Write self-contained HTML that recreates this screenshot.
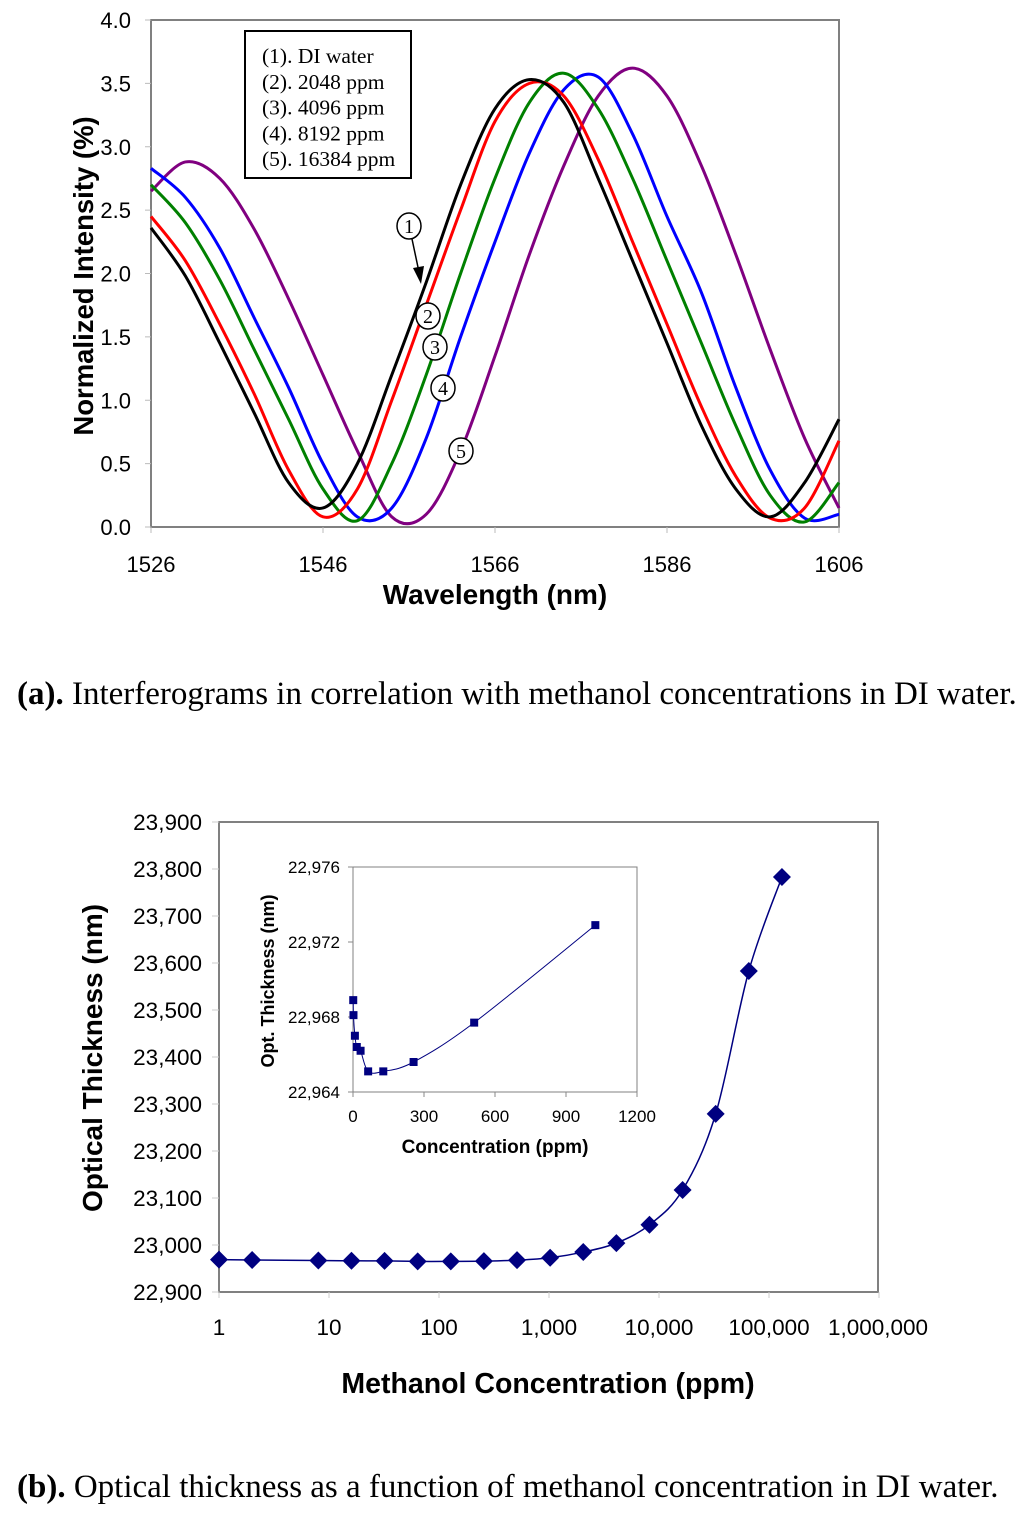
<!DOCTYPE html>
<html><head><meta charset="utf-8">
<style>
html,body{margin:0;padding:0;background:#fff;}
body{width:1024px;height:1516px;position:relative;overflow:hidden;}
svg{position:absolute;left:0;top:0;}
.cap{position:absolute;left:17px;font-family:"Liberation Serif",serif;font-size:33px;color:#000;white-space:nowrap;}
</style></head>
<body>
<svg id="chart" width="1024" height="1516" xmlns="http://www.w3.org/2000/svg"></svg>
<div class="cap" style="top:676px"><b>(a).</b> Interferograms in correlation with methanol concentrations in DI water.</div>
<div class="cap" style="top:1469px"><b>(b).</b> Optical thickness as a function of methanol concentration in DI water.</div>
<script>
// ---- Chart (a) data ----
const wavelengths = [1526,1530,1534,1538,1542,1546,1550,1554,1558,1562,1566,1570,1574,1578,1582,1586,1590,1594,1598,1602,1606];
const seriesDI    = [2.36,1.98,1.45,0.90,0.35,0.15,0.50,1.20,1.93,2.70,3.30,3.53,3.35,2.75,2.10,1.45,0.80,0.30,0.08,0.35,0.85];
const series2048  = [2.45,2.10,1.60,1.05,0.45,0.08,0.30,1.00,1.75,2.50,3.20,3.50,3.40,2.90,2.25,1.60,0.95,0.40,0.07,0.15,0.68];
const series4096  = [2.70,2.40,1.95,1.40,0.85,0.30,0.05,0.50,1.20,2.00,2.75,3.35,3.58,3.30,2.75,2.10,1.45,0.80,0.25,0.04,0.35];
const series8192  = [2.83,2.60,2.20,1.65,1.10,0.50,0.08,0.15,0.70,1.50,2.25,2.95,3.45,3.55,3.10,2.45,1.85,1.10,0.45,0.07,0.10];
const series16384 = [2.65,2.88,2.75,2.35,1.80,1.20,0.60,0.08,0.10,0.60,1.35,2.15,2.85,3.40,3.62,3.40,2.85,2.15,1.40,0.70,0.15];
const yTicksA = [0,0.5,1,1.5,2,2.5,3,3.5,4];
const xTicksA = [1526,1546,1566,1586,1606];
const legendLabels = ["(1). DI water","(2). 2048 ppm","(3). 4096 ppm","(4). 8192 ppm","(5). 16384 ppm"];
// ---- Chart (b) data ----
const concentrations = [1,2,8,16,32,64,128,256,512,1024,2048,4096,8192,16384,32768,65536,131072];
const thickness = [22968.9,22968.1,22967.0,22966.4,22966.2,22965.1,22965.1,22965.6,22967.7,22972.9,22985,23004,23043,23117,23279,23583,23783];
const yTicksB = [22900,23000,23100,23200,23300,23400,23500,23600,23700,23800,23900];
const xTicksB = [1,10,100,1000,10000,100000,1000000];
const xTickLabelsB = ["1","10","100","1,000","10,000","100,000","1,000,000"];
const insetConc = [1,2,8,16,32,64,128,256,512,1024];
const insetThick = [22968.9,22968.1,22967.0,22966.4,22966.2,22965.1,22965.1,22965.6,22967.7,22972.9];
const yTicksInset = [22964,22968,22972,22976];
const xTicksInset = [0,300,600,900,1200];

const NS="http://www.w3.org/2000/svg";
const svg=document.getElementById('chart');
function mk(tag,attrs,parent){const e=document.createElementNS(NS,tag);for(const k in attrs)e.setAttribute(k,attrs[k]);(parent||svg).appendChild(e);return e;}
function txt(s,attrs){const e=mk('text',attrs);e.textContent=s;return e;}
function fmt(n){return n.toString().replace(/\B(?=(\d{3})+(?!\d))/g,",");}
function smooth(pts){let d="M"+pts[0][0]+","+pts[0][1];for(let i=0;i<pts.length-1;i++){const p0=pts[i-1]||pts[i],p1=pts[i],p2=pts[i+1],p3=pts[i+2]||p2;const c1=[p1[0]+(p2[0]-p0[0])/6,p1[1]+(p2[1]-p0[1])/6],c2=[p2[0]-(p3[0]-p1[0])/6,p2[1]-(p3[1]-p1[1])/6];d+=" C"+c1[0]+","+c1[1]+" "+c2[0]+","+c2[1]+" "+p2[0]+","+p2[1];}return d;}

// ===== Chart A =====
const AL=151,AR=839,AT=20,AB=527;
const xA=v=>AL+(v-1526)/(1606-1526)*(AR-AL);
const yA=v=>AB-(v/4)*(AB-AT);
let e;
e=mk('rect',{x:AL,y:AT,width:AR-AL,height:AB-AT,fill:'#fff',stroke:'#808080','stroke-width':2});


yTicksA.forEach(t=>{
  e=mk('line',{x1:AL-6,x2:AL,y1:yA(t),y2:yA(t),stroke:'#bbb','stroke-width':1});
  e=txt(t.toFixed(1),{x:131,y:yA(t)+8,'text-anchor':'end','font-family':'Liberation Sans, sans-serif','font-size':22});
  
  
});
xTicksA.forEach(t=>{
  mk('line',{x1:xA(t),x2:xA(t),y1:AB,y2:AB+6,stroke:'#bbb','stroke-width':1});
  e=txt(String(t),{x:xA(t),y:572,'text-anchor':'middle','font-family':'Liberation Sans, sans-serif','font-size':22});
  
  
});
e=txt('Wavelength (nm)',{x:495,y:604,'text-anchor':'middle','font-family':'Liberation Sans, sans-serif','font-size':28,'font-weight':'bold'});


e=txt('Normalized Intensity (%)',{x:0,y:0,transform:'translate(93,276) rotate(-90)','text-anchor':'middle','font-family':'Liberation Sans, sans-serif','font-size':27.5,'font-weight':'bold'});


const seriesA=[[series16384,'#800080','series-16384ppm'],[series8192,'#0000ff','series-8192ppm'],[series4096,'#008000','series-4096ppm'],[series2048,'#ff0000','series-2048ppm'],[seriesDI,'#000000','series-di-water']];
seriesA.forEach(s=>{
  const pts=wavelengths.map((w,i)=>[xA(w),yA(s[0][i])]);
  e=mk('path',{d:smooth(pts),fill:'none',stroke:s[1],'stroke-width':3,'stroke-linejoin':'round'});
  
  
});
e=mk('rect',{x:245,y:31,width:166,height:147,fill:'#fff',stroke:'#000','stroke-width':2});


legendLabels.forEach((l,i)=>{
  e=txt(l,{x:262,y:63+i*25.8,'font-family':'Liberation Serif, serif','font-size':21.5});
  
  
});
const circles=[[409,226,'1'],[428,316,'2'],[435,347,'3'],[443,388,'4'],[461,451,'5']];
circles.forEach(c=>{
  e=mk('ellipse',{cx:c[0],cy:c[1],rx:12,ry:13,fill:'#fff',stroke:'#000','stroke-width':1.5});
  
  
  txt(c[2],{x:c[0],y:c[1]+7,'text-anchor':'middle','font-family':'Liberation Serif, serif','font-size':20});
});
mk('line',{x1:412,y1:239,x2:419,y2:272,stroke:'#000','stroke-width':1.5});
e=mk('polygon',{points:'413,268 424,266 421,284',fill:'#000'});



// ===== Chart B =====
const BL=219,BR=878,BT=822,BB=1292;
const xB=v=>BL+Math.log10(v)*110;
const yB=v=>BB-(v-22900)/1000*(BB-BT);
e=mk('rect',{x:BL,y:BT,width:BR-BL,height:BB-BT,fill:'#fff',stroke:'#808080','stroke-width':2});


yTicksB.forEach(t=>{
  mk('line',{x1:BL-7,x2:BL,y1:yB(t),y2:yB(t),stroke:'#ccc','stroke-width':1});
  e=txt(fmt(t),{x:202,y:yB(t)+8,'text-anchor':'end','font-family':'Liberation Sans, sans-serif','font-size':22.5});
  
  
});
xTicksB.forEach((t,i)=>{
  mk('line',{x1:xB(t),x2:xB(t),y1:BB,y2:BB+6,stroke:'#ccc','stroke-width':1});
  e=txt(xTickLabelsB[i],{x:xB(t)+(i===6?-1:0),y:1335,'text-anchor':'middle','font-family':'Liberation Sans, sans-serif','font-size':22.5});
  
  
});
e=txt('Methanol Concentration (ppm)',{x:548,y:1393,'text-anchor':'middle','font-family':'Liberation Sans, sans-serif','font-size':28.5,'font-weight':'bold'});


e=txt('Optical Thickness (nm)',{x:0,y:0,transform:'translate(102,1058) rotate(-90)','text-anchor':'middle','font-family':'Liberation Sans, sans-serif','font-size':28,'font-weight':'bold'});


const ptsB=concentrations.map((c,i)=>[xB(c),yB(thickness[i])]);
e=mk('path',{d:smooth(ptsB),fill:'none',stroke:'#000080','stroke-width':1.5});


ptsB.forEach(p=>{
  e=mk('polygon',{points:`${p[0]},${p[1]-9} ${p[0]+9},${p[1]} ${p[0]},${p[1]+9} ${p[0]-9},${p[1]}`,fill:'#000080'});
  
  
});

// ===== Inset =====
const IL=353,IR=637,IT=867,IB=1092;
const xI=v=>IL+v/1200*(IR-IL);
const yI=v=>IB-(v-22964)/12*(IB-IT);
e=mk('rect',{x:IL,y:IT,width:IR-IL,height:IB-IT,fill:'#fff',stroke:'#808080','stroke-width':1});


yTicksInset.forEach(t=>{
  mk('line',{x1:IL-5,x2:IL,y1:yI(t),y2:yI(t),stroke:'#888'});
  e=txt(fmt(t),{x:340,y:yI(t)+6,'text-anchor':'end','font-family':'Liberation Sans, sans-serif','font-size':17});
  
  
});
xTicksInset.forEach(t=>{
  mk('line',{x1:xI(t),x2:xI(t),y1:IB,y2:IB+5,stroke:'#888'});
  e=txt(String(t),{x:xI(t),y:1122,'text-anchor':'middle','font-family':'Liberation Sans, sans-serif','font-size':17});
  
  
});
e=txt('Concentration (ppm)',{x:495,y:1153,'text-anchor':'middle','font-family':'Liberation Sans, sans-serif','font-size':19,'font-weight':'bold'});


e=txt('Opt. Thickness (nm)',{x:0,y:0,transform:'translate(274,981) rotate(-90)','text-anchor':'middle','font-family':'Liberation Sans, sans-serif','font-size':18,'font-weight':'bold'});


const ptsI=insetConc.map((c,i)=>[xI(c),yI(insetThick[i])]);
e=mk('path',{d:smooth(ptsI),fill:'none',stroke:'#000080','stroke-width':1});


ptsI.forEach(p=>{
  e=mk('rect',{x:p[0]-4,y:p[1]-4,width:8,height:8,fill:'#000080'});
  
  
});
</script>
</body></html>
